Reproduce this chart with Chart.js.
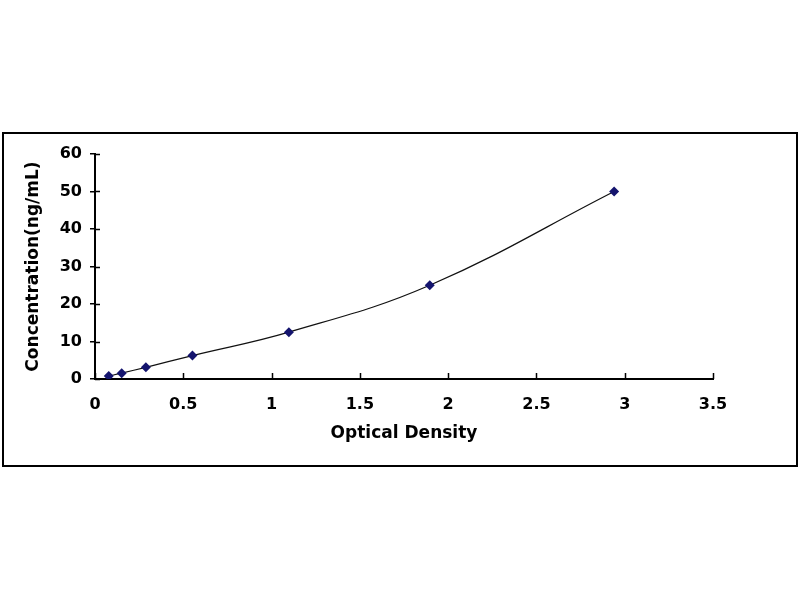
<!DOCTYPE html>
<html>
<head>
<meta charset="utf-8">
<script src="https://cdn.jsdelivr.net/npm/chart.js@4"></script>
<style>
  html, body { margin: 0; padding: 0; background: #fff; width: 800px; height: 600px; overflow: hidden; }
  #frame {
    position: absolute; left: 2px; top: 132px; width: 796px; height: 335px;
    box-sizing: border-box; border: 2px solid #000; background: #fff;
  }
  #wrap { position: absolute; left: 0; top: 0; width: 792px; height: 331px; }
</style>
</head>
<body>
<div id="frame"><div id="wrap"><canvas id="curve"></canvas></div></div>
<script>
// standard curve
const opticalDensity = [0.078, 0.151, 0.288, 0.552, 1.098, 1.896, 2.94];
const concentration = [0.78, 1.56, 3.12, 6.25, 12.5, 25, 50];
const xTicks = [0, 0.5, 1, 1.5, 2, 2.5, 3, 3.5];
const yTicks = [0, 10, 20, 30, 40, 50, 60];

const FONT = "'DejaVu Sans', Arial, sans-serif";

// x ticks point up into the plot, y ticks cross the axis
const axisTicks = {
  id: "axisTicks",
  afterDraw(chart) {
    const { ctx, scales: { x, y } } = chart;
    ctx.save();
    ctx.strokeStyle = "#000";
    ctx.lineWidth = 1.5;
    ctx.beginPath();
    xTicks.forEach(v => {
      const px = Math.round(x.getPixelForValue(v)) + 0.5;
      ctx.moveTo(px, y.bottom);
      ctx.lineTo(px, y.bottom - 6);
    });
    yTicks.forEach(v => {
      const py = Math.round(y.getPixelForValue(v)) + 0.5;
      ctx.moveTo(x.left, py);
      ctx.lineTo(x.left + 5, py);
    });
    ctx.stroke();
    ctx.restore();
  }
};

const points = opticalDensity.map((od, i) => ({ x: od, y: concentration[i] }));

new Chart(document.getElementById("curve"), {
  type: "scatter",
  data: {
    datasets: [{
      data: points,
      showLine: true,
      tension: 0.4,
      borderColor: "#111",
      borderWidth: 1.2,
      pointStyle: "rectRot",
      pointRadius: 5,
      pointBackgroundColor: "#14146e",
      pointBorderColor: "#14146e",
      pointBorderWidth: 0
    }]
  },
  options: {
    responsive: true,
    maintainAspectRatio: false,
    animation: false,
    layout: { padding: { left: 0, top: 20, right: 83, bottom: 0 } },
    plugins: { legend: { display: false }, tooltip: { enabled: false } },
    scales: {
      x: {
        type: "linear",
        min: 0, max: 3.5,
        afterBuildTicks: s => { s.ticks = xTicks.map(v => ({ value: v })); },
        afterFit: s => { s.height = 86; },
        grid: { display: true, drawOnChartArea: false, drawTicks: false, color: "#000", lineWidth: 2 },
        border: { display: true, color: "#000", width: 2 },
        ticks: { color: "#000", padding: 16, maxRotation: 0, callback: v => String(v),
                 font: { family: FONT, size: 16, weight: "bold" } },
        title: { display: true, text: "Optical Density", color: "#000", padding: { top: 0, bottom: 21 },
                 font: { family: FONT, size: 17, weight: "bold" } }
      },
      y: {
        type: "linear",
        min: 0, max: 60,
        afterBuildTicks: s => { s.ticks = yTicks.map(v => ({ value: v })); },
        afterFit: s => { s.width = 91; },
        grid: { display: true, drawOnChartArea: false, tickLength: 5, color: "#000", lineWidth: 1.5 },
        border: { display: true, color: "#000", width: 2 },
        ticks: { color: "#000", padding: 8, callback: v => String(v),
                 font: { family: FONT, size: 16, weight: "bold" } },
        title: { display: true, text: "Concentration(ng/mL)", color: "#000", padding: { top: 19, bottom: 0 },
                 font: { family: FONT, size: 17, weight: "bold" } }
      }
    }
  },
  plugins: [axisTicks]
});
</script>
</body>
</html>
